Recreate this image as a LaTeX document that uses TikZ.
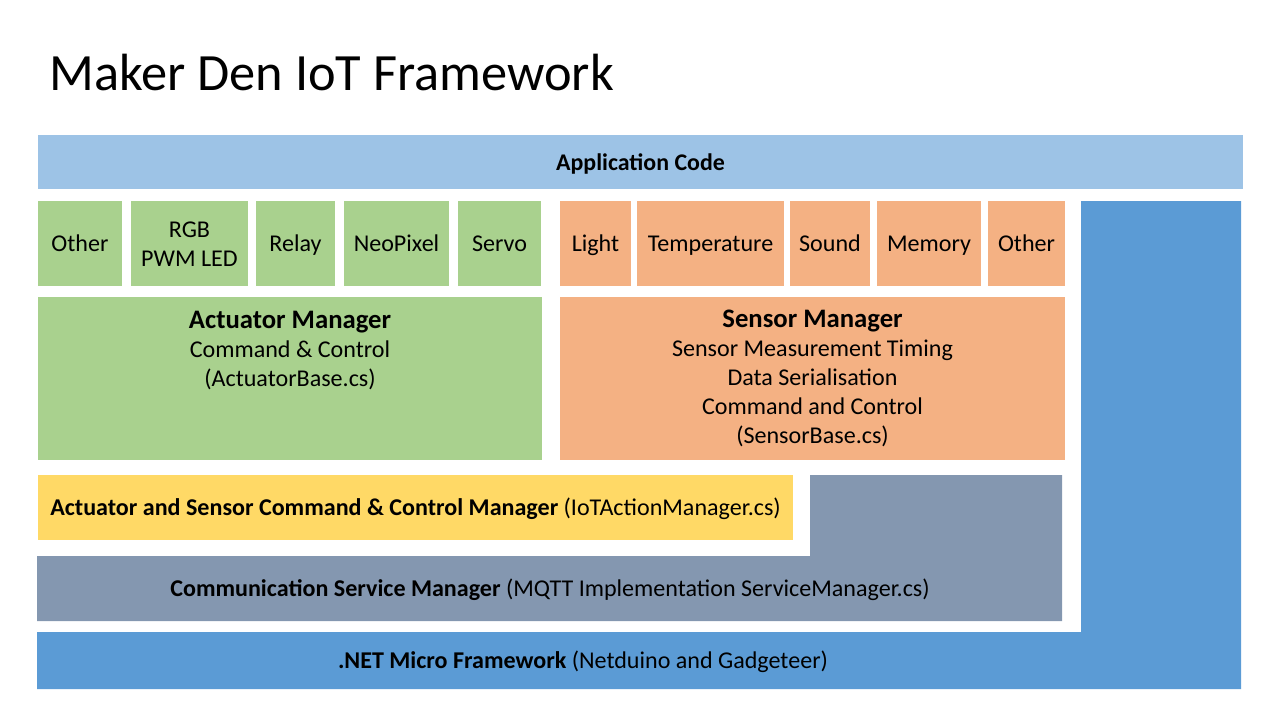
\documentclass[tikz,border=0pt]{standalone}
\usepackage{fontspec}
\setmainfont{Carlito}
\usepackage{tikz}
\usetikzlibrary{positioning,backgrounds,calc}
\definecolor{appblue}{HTML}{9DC3E6}
\definecolor{netblue}{HTML}{5B9BD5}
\definecolor{actgreen}{HTML}{A9D18E}
\definecolor{senorange}{HTML}{F4B183}
\definecolor{ctlyellow}{HTML}{FFD966}
\definecolor{comgray}{HTML}{8497B0}
\newcommand{\mstrut}{\rule[-3.55pt]{0pt}{16.5pt}}

\begin{document}
\begin{tikzpicture}[x=0.02cm, y=-0.02cm,
 blk/.style={inner sep=0pt, outer sep=0pt, align=center, font=\fontsize{13.7}{16.5}\selectfont,
  execute at begin node=\mstrut, execute at end node=\mstrut},
 small/.style={blk, minimum height=1.70cm},
 txt/.style={inner sep=0pt, align=center, font=\fontsize{13.7}{16.5}\selectfont,
  execute at begin node=\mstrut, execute at end node=\mstrut}]
 \useasboundingbox (0,0) rectangle (1280,720);
 \node[anchor=base west, inner sep=0pt, font=\fontsize{29.8}{36}\selectfont] (title) at (49,90) {Maker Den IoT Framework};
 \node[blk, fill=appblue, minimum width=24.10cm, minimum height=1.08cm, font=\bfseries\fontsize{13.6}{16}\selectfont] (app) at (640.5,162) {Application Code};
 % L-shaped layers
 \fill[netblue] (1081,201) -- (1241,201) -- (1241,689) -- (37,689) -- (37,632) -- (1081,632) -- cycle;
 \fill[comgray] (810,475) -- (1062,475) -- (1062,621) -- (37,621) -- (37,556) -- (810,556) -- cycle;
 \node[txt] (net) at (583,660) {\textbf{.NET Micro Framework} (Netduino and Gadgeteer)};
 \node[txt] (com) at (550,588) {\textbf{Communication Service Manager} (MQTT Implementation ServiceManager.cs)};
 % actuators
 \node[small, fill=actgreen, minimum width=1.68cm] (oth1) at (80,243.5) {Other};
 \node[small, fill=actgreen, minimum width=2.34cm] (rgb) at (189.5,243.5) {};
 \node[txt] (rgbtxt) at (189.5,247.5) {RGB\\PWM LED};
 \node[small, fill=actgreen, minimum width=1.58cm] (rly) at (295.5,243.5) {Relay};
 \node[small, fill=actgreen, minimum width=2.10cm] (neo) at (396.5,243.5) {NeoPixel};
 \node[small, fill=actgreen, minimum width=1.66cm] (srv) at (499.5,243.5) {Servo};
 % sensors
 \node[small, fill=senorange, minimum width=1.42cm] (lgt) at (595.5,243.5) {Light};
 \node[small, fill=senorange, minimum width=2.94cm] (tmp) at (710.5,243.5) {Temperature};
 \node[small, fill=senorange, minimum width=1.60cm] (snd) at (830,243.5) {Sound};
 \node[small, fill=senorange, minimum width=2.08cm] (mem) at (929,243.5) {Memory};
 \node[small, fill=senorange, minimum width=1.54cm] (oth2) at (1026.5,243.5) {Other};
 % managers
 \node[blk, fill=actgreen, minimum width=10.08cm, minimum height=3.26cm] (actmgr) at (290,378.5) {};
 \node[txt, anchor=north] (acttxt) at (290,310.5) {{\bfseries\fontsize{15.2}{17}\selectfont Actuator Manager}\\Command \& Control\\(ActuatorBase.cs)};
 \node[blk, fill=senorange, minimum width=10.10cm, minimum height=3.26cm] (senmgr) at (812.5,378.5) {};
 \node[txt, anchor=north] (sentxt) at (812.5,310) {{\bfseries\fontsize{15.2}{17}\selectfont Sensor Manager}\\Sensor Measurement Timing\\Data Serialisation\\Command and Control\\(SensorBase.cs)};
 \node[blk, fill=ctlyellow, minimum width=15.10cm, minimum height=1.30cm] (ctl) at (415.5,507.5) {\textbf{Actuator and Sensor Command \& Control Manager} (IoTActionManager.cs)};
\end{tikzpicture}
\end{document}
